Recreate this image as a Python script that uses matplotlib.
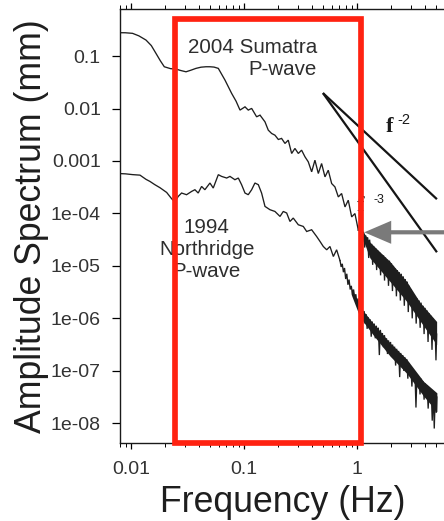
import numpy as np
import matplotlib
matplotlib.use("Agg")
import matplotlib.pyplot as plt
from matplotlib.patches import Rectangle, FancyArrowPatch
from matplotlib.ticker import LogLocator, NullFormatter

plt.rcParams['font.family'] = ['Liberation Sans', 'DejaVu Sans']

# ---------------- data (log10 values) ----------------
sumatra_logf = [-2.104, -2.05, -1.986, -1.93, -1.867, -1.82, -1.779, -1.74, -1.705, -1.65,
                -1.602, -1.56, -1.513, -1.47, -1.425, -1.38, -1.336, -1.301, -1.265, -1.227,
                -1.168, -1.109, -1.07, -1.035, -0.991, -0.962, -0.932, -0.888, -0.858, -0.814,
                -0.785, -0.755, -0.726, -0.696, -0.667, -0.637, -0.608, -0.578, -0.549, -0.519,
                -0.49, -0.46, -0.431, -0.401, -0.372, -0.342, -0.313, -0.283, -0.254, -0.224,
                -0.195, -0.165, -0.136, -0.106, -0.077, -0.047, -0.018, 0.012]
sumatra_loga = [-0.555, -0.556, -0.567, -0.615, -0.695, -0.80, -0.948, -1.09, -1.204, -1.240,
                -1.248, -1.275, -1.300, -1.270, -1.235, -1.212, -1.204, -1.204, -1.210, -1.235,
                -1.458, -1.712, -1.86, -2.03, -1.968, -2.03, -1.998, -2.158, -2.126, -2.254,
                -2.412, -2.476, -2.508, -2.59, -2.57, -2.666, -2.603, -2.857, -2.761, -2.857,
                -2.794, -2.921, -3.016, -3.207, -2.985, -3.239, -3.048, -3.303, -3.176, -3.43,
                -3.494, -3.685, -3.62, -3.876, -3.748, -4.066, -4.002, -4.32]

sumatra_hf_logf = [0.012, 0.022, 0.030, 0.041, 0.050, 0.058, 0.068, 0.077, 0.086, 0.094,
                   0.104, 0.112, 0.121, 0.130, 0.139, 0.147, 0.156, 0.165, 0.174, 0.182,
                   0.191, 0.200, 0.209, 0.217, 0.226, 0.235, 0.244, 0.252, 0.261, 0.270,
                   0.279, 0.287, 0.296, 0.305, 0.314, 0.322, 0.331, 0.340, 0.349, 0.357,
                   0.366, 0.375, 0.384, 0.392, 0.401, 0.410, 0.419, 0.427, 0.436, 0.445,
                   0.454, 0.462, 0.471, 0.480, 0.489, 0.497, 0.506, 0.515, 0.524, 0.532,
                   0.541, 0.550, 0.559, 0.567, 0.576, 0.585, 0.594, 0.602, 0.611, 0.620,
                   0.629, 0.637, 0.646, 0.655, 0.664, 0.672, 0.681, 0.690, 0.699, 0.705]
sumatra_hf_loga = [-4.32, -4.22, -4.42, -4.28, -4.55, -4.35, -4.65, -4.42, -4.58, -4.46,
                   -4.85, -4.50, -4.72, -4.58, -4.98, -4.62, -4.80, -4.66, -5.08, -4.70,
                   -4.90, -4.74, -5.18, -4.78, -4.98, -4.80, -5.28, -4.84, -5.05, -4.88,
                   -5.38, -4.90, -5.12, -4.95, -5.48, -5.00, -5.22, -5.05, -5.58, -5.08,
                   -5.32, -5.12, -5.66, -5.15, -5.42, -5.20, -5.76, -5.25, -5.52, -5.30,
                   -5.88, -5.38, -5.65, -5.45, -6.00, -5.52, -5.78, -5.58, -6.10, -5.62,
                   -5.88, -5.66, -6.18, -5.70, -5.95, -5.76, -6.30, -5.80, -6.05, -5.85,
                   -6.45, -5.90, -6.18, -5.95, -6.60, -6.00, -6.35, -6.05, -6.80, -6.30]
sumatra_env_logf = [0.04, 0.115, 0.293, 0.441, 0.559, 0.705]
sumatra_env_hi = [-4.30, -4.55, -4.92, -5.30, -5.70, -6.06]
sumatra_env_lo = [-4.42, -4.85, -5.30, -5.68, -6.05, -6.50]

northridge_logf = [-2.104, -2.05, -1.986, -1.92, -1.867, -1.832, -1.79, -1.743, -1.684, -1.64,
                   -1.611, -1.582, -1.552, -1.508, -1.463, -1.434, -1.405, -1.375, -1.346, -1.301,
                   -1.272, -1.227, -1.198, -1.153, -1.124, -1.080, -1.050, -1.021, -0.991, -0.962,
                   -0.932, -0.903, -0.873, -0.844, -0.814, -0.770, -0.726, -0.681, -0.652, -0.622,
                   -0.593, -0.564, -0.519, -0.475, -0.445, -0.401, -0.357, -0.327, -0.298, -0.268,
                   -0.239, -0.209, -0.180, -0.150]
northridge_loga = [-3.24, -3.245, -3.26, -3.27, -3.35, -3.39, -3.45, -3.51, -3.60, -3.72,
                   -3.78, -3.676, -3.611, -3.643, -3.58, -3.548, -3.611, -3.485, -3.548, -3.42,
                   -3.516, -3.261, -3.294, -3.325, -3.294, -3.357, -3.325, -3.452, -3.611, -3.643,
                   -3.548, -3.42, -3.452, -3.611, -3.866, -3.929, -3.962, -4.057, -3.962, -3.992,
                   -4.153, -4.088, -4.216, -4.248, -4.344, -4.311, -4.439, -4.534, -4.63, -4.693,
                   -4.63, -4.821, -4.693, -4.90]

northridge_hf_logf = [-0.150, -0.140, -0.130, -0.120, -0.110, -0.100, -0.090, -0.080, -0.070, -0.060,
                      -0.050, -0.040, -0.030, -0.020, -0.010, 0.000, 0.009, 0.018, 0.027, 0.036,
                      0.045, 0.054, 0.063, 0.072, 0.081, 0.090, 0.099, 0.108, 0.117, 0.126,
                      0.135, 0.144, 0.153, 0.162, 0.171, 0.180, 0.189, 0.198, 0.207, 0.216,
                      0.225, 0.234, 0.243, 0.252, 0.261, 0.270, 0.279, 0.288, 0.297, 0.306,
                      0.315, 0.324, 0.333, 0.342, 0.351, 0.360, 0.369, 0.378, 0.387, 0.396,
                      0.405, 0.414, 0.423, 0.432, 0.441, 0.450, 0.459, 0.468, 0.477, 0.486,
                      0.495, 0.504, 0.513, 0.522, 0.531, 0.540, 0.549, 0.558, 0.567, 0.576,
                      0.585, 0.594, 0.603, 0.612, 0.621, 0.630, 0.639, 0.648, 0.657, 0.666,
                      0.675, 0.684, 0.693, 0.702, 0.707]
northridge_hf_loga = [-4.90, -5.02, -4.96, -5.12, -5.04, -5.25, -5.15, -5.36, -5.26, -5.45,
                      -5.38, -5.55, -5.45, -5.62, -5.54, -5.74, -5.62, -5.85, -5.72, -5.95,
                      -5.80, -6.02, -5.86, -6.10, -5.92, -6.20, -5.98, -6.15, -6.02, -6.35,
                      -6.06, -6.25, -6.10, -6.38, -6.14, -6.30, -6.18, -6.70, -6.22, -6.42,
                      -6.28, -6.55, -6.32, -6.50, -6.38, -6.68, -6.42, -6.60, -6.45, -6.72,
                      -6.50, -6.65, -6.54, -6.90, -6.58, -6.78, -6.62, -7.12, -6.66, -6.85,
                      -6.70, -7.00, -6.74, -6.95, -6.78, -7.15, -6.85, -7.05, -6.92, -7.30,
                      -6.98, -7.18, -7.02, -7.70, -7.08, -7.30, -7.12, -7.45, -7.15, -7.38,
                      -7.20, -7.55, -7.24, -7.45, -7.28, -7.72, -7.32, -7.55, -7.36, -7.95,
                      -7.40, -8.10, -7.45, -7.80, -7.50]
northridge_env_logf = [-0.05, 0.027, 0.145, 0.293, 0.441, 0.589, 0.707]
northridge_env_hi = [-5.42, -5.78, -6.10, -6.47, -6.78, -7.20, -7.42]
northridge_env_lo = [-5.55, -5.98, -6.32, -6.72, -7.05, -7.48, -7.78]

# reference slope lines f^-2 and f^-3
slope_freq = [0.5, 5.1]
slope2_amp = [1.97e-2, 1.87e-4]
slope3_amp = [1.97e-2, 1.82e-5]

# highlighted band and arrow target
box_freq = [0.02477, 1.085]
box_top_amp = 0.508
arrow_tip = (1.16, 4.37e-5)

ytick_vals = [1e-1, 1e-2, 1e-3, 1e-4, 1e-5, 1e-6, 1e-7, 1e-8]
ytick_labels = ['0.1', '0.01', '0.001', '1e-04', '1e-05', '1e-06', '1e-07', '1e-08']
xtick_vals = [0.01, 0.1, 1]
xtick_labels = ['0.01', '0.1', '1']


def p(v):
    return np.power(10.0, np.asarray(v, dtype=float))


# ---------------- figure ----------------
W, H = 444, 521
fig = plt.figure(figsize=(W / 100, H / 100), dpi=100)
ax = fig.add_axes([120 / W, 1 - 443 / H, 325 / W, 434 / H])
ax.set_xscale('log')
ax.set_yscale('log')
ax.set_xlim(10 ** -2.097, 10 ** 0.779)
ax.set_ylim(10 ** -8.376, 10 ** -0.103)

line_kw = dict(color='#1e1e1e', lw=0.95, solid_joinstyle='miter')
ax.plot(p(sumatra_logf), p(sumatra_loga), **line_kw)
ax.fill_between(p(sumatra_env_logf), p(sumatra_env_lo), p(sumatra_env_hi), color='#1e1e1e', lw=0)
ax.plot(p(sumatra_hf_logf), p(sumatra_hf_loga), **line_kw)

ax.plot(p(northridge_logf), p(northridge_loga), **line_kw)
ax.fill_between(p(northridge_env_logf), p(northridge_env_lo), p(northridge_env_hi), color='#1e1e1e', lw=0)
ax.plot(p(northridge_hf_logf), p(northridge_hf_loga), **line_kw)

ax.plot(slope_freq, slope2_amp, color='#151515', lw=1.6, solid_capstyle='butt')
ax.plot(slope_freq, slope3_amp, color='#151515', lw=1.6, solid_capstyle='butt')

# annotations
txt_color = '#2e2e2e'
ax.text(0.443, 10 ** -1.044, '2004 Sumatra\nP-wave', ha='right', va='center',
        multialignment='right', fontsize=14.8, color=txt_color, linespacing=1.22)
ax.text(0.047, 10 ** -4.69, '1994\nNorthridge\nP-wave', ha='center', va='center',
        multialignment='center', fontsize=14.8, color=txt_color, linespacing=1.22)
ax.text(1.96, 10 ** -2.36, 'f', ha='center', va='center', fontsize=16,
        family=['Liberation Serif', 'DejaVu Serif'], fontweight='bold', color='#1a1a1a')
ax.text(2.6, 10 ** -2.22, '-2', ha='center', va='center', fontsize=10.5, color='#1a1a1a')
ax.text(1.07, 10 ** -3.86, 'f', ha='center', va='center', fontsize=16,
        family=['Liberation Serif', 'DejaVu Serif'], fontweight='bold', color='#1a1a1a', zorder=3)
ax.text(1.57, 10 ** -3.75, '-3', ha='center', va='center', fontsize=9, color='#1a1a1a')

ylo = ax.get_ylim()[0]
rect = Rectangle((box_freq[0], ylo), box_freq[1] - box_freq[0], box_top_amp - ylo,
                 fill=False, edgecolor='#ff2211', lw=4.1, joinstyle='miter',
                 clip_on=False, zorder=5)
ax.add_patch(rect)

arrow = FancyArrowPatch(posA=(9.0, arrow_tip[1]), posB=arrow_tip,
                        arrowstyle='simple,head_length=1.94,head_width=1.66,tail_width=0.3',
                        mutation_scale=10, color='#7a7a7a', lw=0, clip_on=False,
                        shrinkA=0, shrinkB=0, zorder=6)
ax.add_patch(arrow)

# axes styling
ax.spines['right'].set_visible(False)
for s in ('left', 'top', 'bottom'):
    ax.spines[s].set_linewidth(1.0)
    ax.spines[s].set_color('#1a1a1a')

ax.set_yticks(ytick_vals, ytick_labels)
ax.yaxis.set_minor_locator(matplotlib.ticker.NullLocator())
ax.set_xticks(xtick_vals, xtick_labels)
ax.xaxis.set_minor_locator(LogLocator(base=10, subs=np.arange(2, 10)))
ax.xaxis.set_minor_formatter(NullFormatter())

ax.tick_params(axis='y', which='major', direction='out', length=5.8, width=0.9,
               pad=8.0, labelsize=14, labelcolor='#333333')
ax.tick_params(axis='x', which='major', direction='out', length=4.3, width=0.9,
               pad=8.5, labelsize=14, labelcolor='#333333', top=True, bottom=True)
ax.tick_params(axis='x', which='minor', direction='out', length=2.6, width=0.7,
               top=True, bottom=True)

ax.set_xlabel('Frequency (Hz)', fontsize=25.7, color='#1e1e1e', labelpad=5)
ax.set_ylabel('Amplitude Spectrum (mm)', fontsize=25.7, color='#1e1e1e', labelpad=1.0)

fig.savefig('out.png', dpi=100)
